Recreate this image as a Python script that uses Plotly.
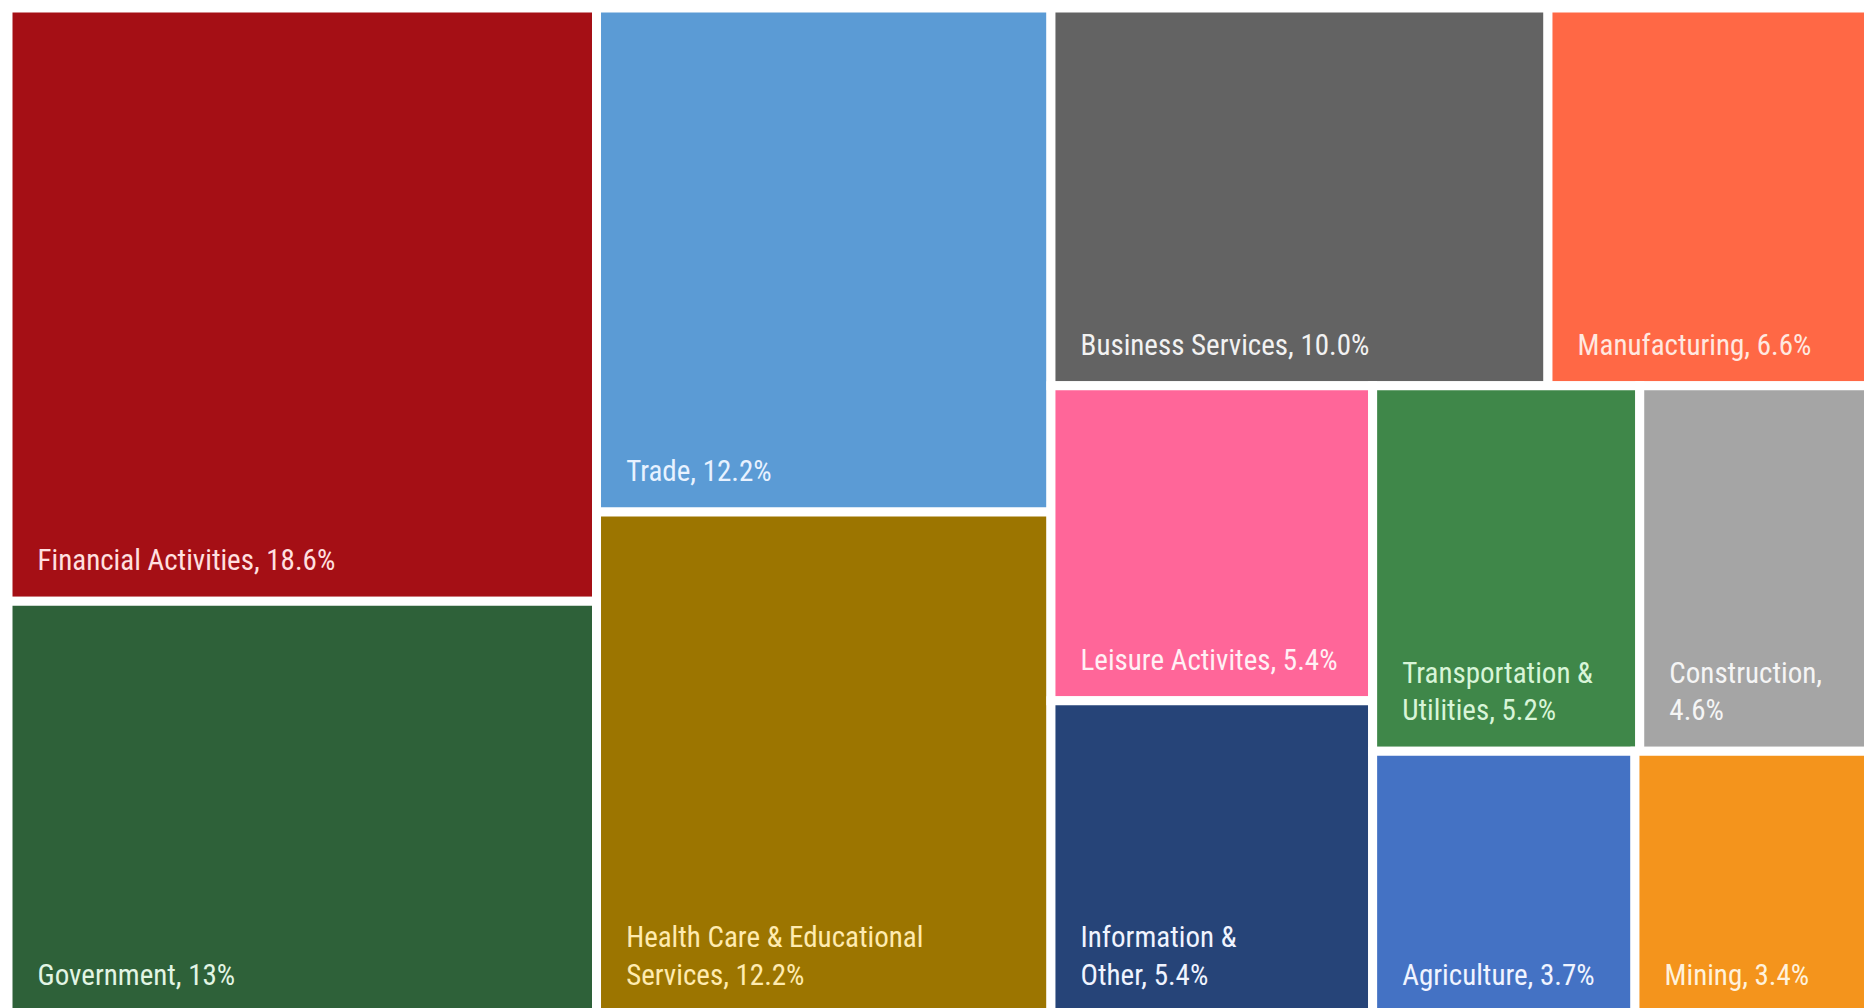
import plotly.graph_objects as go

sectors = ["Financial Activities", "Government", "Trade", "Health Care & Educational Services",
           "Business Services", "Manufacturing", "Leisure Activites", "Information & Other",
           "Transportation & Utilities", "Construction", "Agriculture", "Mining"]
shares = [18.6, 13.0, 12.2, 12.2, 10.0, 6.6, 5.4, 5.4, 5.2, 4.6, 3.7, 3.4]
share_labels = ["18.6%", "13%", "12.2%", "12.2%", "10.0%", "6.6%", "5.4%", "5.4%",
                "5.2%", "4.6%", "3.7%", "3.4%"]
# how each label is displayed (line breaks as in the reference)
display_text = ["Financial Activities, 18.6%", "Government, 13%", "Trade, 12.2%",
                "Health Care & Educational<br>Services, 12.2%", "Business Services, 10.0%",
                "Manufacturing, 6.6%", "Leisure Activites, 5.4%", "Information &<br>Other, 5.4%",
                "Transportation &<br>Utilities, 5.2%", "Construction,<br>4.6%",
                "Agriculture, 3.7%", "Mining, 3.4%"]
colors = ["#A50F15", "#2E6139", "#5B9BD5", "#9C7500", "#636363", "#FF6845",
          "#FF6699", "#264478", "#3F8749", "#A5A5A5", "#4472C4", "#F4941C"]
text_colors = ["#FFE0E0", "#E2F5E4", "#E8F2FF", "#FFEBB0", "#F2F2F2", "#FFE8E0",
               "#FFF0F5", "#F0F4FF", "#D8F5D8", "#F5F5F5", "#F0F4FF", "#FFF2DC"]

pad = "\u00a0" * 4
texts = [pad + t.replace("<br>", "<br>" + pad) + "<span style='font-size:115px'>\u00a0</span>"
         for t in display_text]

fig = go.Figure(go.Treemap(
    labels=sectors,
    parents=[""] * len(sectors),
    values=shares,
    text=texts,
    texttemplate="%{text}",
    textposition="bottom left",
    sort=False,
    tiling=dict(packing="squarify", squarifyratio=1, pad=0),
    marker=dict(colors=colors, line=dict(color="white", width=9),
                pad=dict(t=0, l=0, r=0, b=0)),
    textfont=dict(family="Liberation Sans Narrow, Roboto Condensed, Arial Narrow, sans-serif",
                  size=29, color=text_colors),
    pathbar=dict(visible=False),
    root=dict(color="white"),
    hoverinfo="label+value",
))

fig.update_layout(
    width=1872, height=1008,
    margin=dict(l=0, r=4, t=0, b=0),
    paper_bgcolor="white",
    uniformtext=dict(minsize=10),
)

fig.write_html("out.html")
